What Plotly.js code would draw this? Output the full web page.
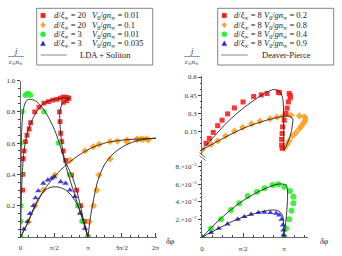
<!DOCTYPE html>
<html><head><meta charset="utf-8">
<script src="https://cdn.plot.ly/plotly-3.0.1.min.js"></script>
<style>html,body{margin:0;padding:0;background:#fff}#c{width:342px;height:256px}</style>
</head><body><div id="c"></div>
<script>
const PI = Math.PI;

// ---------- LEFT PANEL (LDA + Soliton) ----------
// d/xi=20, V0=0.01 (red squares)
const lRedPhi = [0.10,0.11,0.13,0.17,0.23,0.30,0.40,0.47,0.66,0.86,1.09,1.30,1.50,1.68,1.85,1.98,2.10,2.20,2.25,2.15,2.00,1.81,1.84,1.87,1.92,1.99,2.10,2.38,2.61,2.80,2.98,3.14];
const lRedJ   = [0.30,0.40,0.50,0.55,0.61,0.65,0.69,0.73,0.80,0.83,0.856,0.865,0.875,0.88,0.888,0.893,0.893,0.89,0.886,0.87,0.86,0.80,0.737,0.663,0.61,0.55,0.49,0.396,0.30,0.20,0.10,0.0];
// d/xi=20, V0=0.1 (orange diamonds), two branches
const lOrgPhiA = [0.36,0.67,1.06,1.60,2.30,3.00,3.39,3.66,4.17,4.51,4.95,5.44,5.60,5.72,5.95];
const lOrgJA   = [0.098,0.20,0.30,0.396,0.49,0.55,0.577,0.592,0.609,0.613,0.62,0.624,0.626,0.624,0.62];
const lOrgPhiB = [3.14,3.20,3.40,3.55,3.65,4.17,4.95,5.41,5.87];
const lOrgJB   = [0.0,0.098,0.20,0.30,0.396,0.498,0.609,0.624,0.628];
// d/xi=3, V0=0.01 (green circles)
const lGrnPhi = [0.01,0.01,0.01,0.015,0.02,0.07,0.22,0.30,0.38,0.46,1.09,1.76,2.29,2.67,2.86,3.14];
const lGrnJ   = [0.0,0.10,0.20,0.40,0.60,0.80,0.905,0.915,0.915,0.905,0.80,0.60,0.40,0.20,0.10,0.0];
// d/xi=3, V0=0.035 (blue triangles)
const lBluPhi = [0.0,0.15,0.33,0.44,0.60,0.70,0.83,1.06,1.27,1.45,1.57,1.87,2.10,2.30,2.54,2.69,2.77,2.90,3.00,3.14];
const lBluJ   = [0.0,0.05,0.098,0.15,0.20,0.25,0.294,0.343,0.364,0.375,0.385,0.353,0.343,0.30,0.258,0.198,0.151,0.098,0.055,0.0];
// LDA + soliton curves
const lcRedPhiA = [0,0.02,0.05,0.09,0.14,0.22,0.35,0.55,0.80,1.10,1.45,1.80,2.10,2.30];
const lcRedJA   = [0,0.15,0.30,0.42,0.52,0.60,0.68,0.75,0.81,0.855,0.875,0.885,0.89,0.886];
const lcRedPhiB = [2.30,2.10,1.92,1.83,1.84,1.88,1.95,2.07,2.38,2.61,2.82,2.98,3.14];
const lcRedJB   = [0.886,0.872,0.845,0.79,0.72,0.65,0.57,0.49,0.396,0.30,0.18,0.08,0.0];
const lcGrnPhi = [0,0.005,0.015,0.03,0.056,0.09,0.13,0.20,0.30,0.45,0.70,1.00,1.30,1.60,1.90,2.20,2.50,2.80,3.00,3.14];
const lcGrnJ   = [0,0.20,0.40,0.55,0.68,0.76,0.81,0.85,0.875,0.88,0.87,0.83,0.765,0.68,0.56,0.41,0.28,0.15,0.06,0];
const lcBluPhi = [0,0.30,0.60,0.90,1.20,1.50,1.80,2.10,2.40,2.65,2.85,3.00,3.14];
const lcBluJ   = [0,0.08,0.18,0.26,0.305,0.32,0.318,0.30,0.26,0.205,0.14,0.075,0];
const lcOrgPhiA = [0,0.30,0.70,1.10,1.60,2.20,2.80,3.40,4.00,4.60,5.20,5.80,6.30];
const lcOrgJA   = [0,0.08,0.20,0.30,0.39,0.47,0.53,0.575,0.603,0.617,0.624,0.628,0.63];
const lcOrgPhiB = [3.14,3.25,3.40,3.60,3.90,4.30,4.80,5.30,5.80,6.30];
const lcOrgJB   = [0,0.12,0.24,0.36,0.46,0.53,0.58,0.61,0.625,0.632];

// ---------- RIGHT PANEL (Deaver-Pierce) ----------
// top: V0=0.2 (red), V0=0.8 (orange)
const rRedPhi = [0.153,0.28,0.43,0.60,0.77,0.98,1.24,1.57,1.98,2.27,2.49,2.92,2.97,3.34,3.38,3.38,3.31,3.26,3.22,3.15,3.09,3.07,3.05,3.05,3.07];
const rRedJ   = [0.055,0.096,0.145,0.20,0.245,0.297,0.346,0.395,0.44,0.453,0.464,0.475,0.47,0.464,0.448,0.43,0.395,0.344,0.30,0.245,0.19,0.136,0.087,0.04,0.014];
const rOrgPhi = [0,0.35,0.60,0.90,1.24,1.56,1.90,2.22,2.60,2.87,3.10,3.41,3.73,3.92,3.98,3.94,3.88,3.80,3.73,3.60,3.47,3.34,3.26,3.15];
const rOrgJ   = [0,0.047,0.074,0.115,0.155,0.186,0.215,0.237,0.256,0.27,0.28,0.286,0.281,0.273,0.256,0.237,0.218,0.195,0.175,0.142,0.115,0.074,0.047,0.014];
// bottom: V0=0.4 (green), V0=0.9 (blue)
const rGrnPhi = [0,0.345,0.73,1.11,1.43,1.75,2.11,2.39,2.71,2.92,3.15,3.37,3.50,3.50,3.43,3.34,3.22,3.15];
const rGrnJ   = [0,0.010,0.0203,0.0309,0.0384,0.0467,0.0515,0.0553,0.0591,0.0599,0.0572,0.0523,0.0459,0.0384,0.030,0.0203,0.010,0];
const rBluPhi = [0,0.345,0.64,0.98,1.37,1.62,1.88,2.16,2.39,2.62,2.84,2.96,3.05,3.10,3.12,3.13,3.14];
const rBluJ   = [0,0.0052,0.010,0.015,0.0203,0.0233,0.026,0.0278,0.0282,0.0278,0.027,0.0252,0.0203,0.0139,0.0082,0.003,0];
// Deaver-Pierce curves
const rcRedPhi = [0,0.50,1.00,1.50,2.00,2.40,2.73,2.90,3.02,3.09,3.12,3.13,3.14];
const rcRedJ   = [0,0.12,0.235,0.33,0.41,0.465,0.497,0.49,0.465,0.43,0.35,0.20,0];
const rcOrgPhi = [0,0.80,1.60,2.40,2.90,3.20,3.40,3.48,3.47,3.42,3.30,3.20,3.14];
const rcOrgJ   = [0,0.095,0.18,0.24,0.268,0.278,0.272,0.255,0.22,0.15,0.07,0.02,0];
const rcGrnPhi = [0,0.50,1.00,1.50,2.00,2.50,2.85,3.09,3.22,3.27,3.27,3.22,3.16,3.14];
const rcGrnJ   = [0,0.015,0.0285,0.040,0.049,0.056,0.0598,0.0602,0.059,0.055,0.040,0.020,0.005,0];
const rcBluPhi = [0,0.60,1.20,1.80,2.30,2.70,2.95,3.08,3.13,3.14];
const rcBluJ   = [0,0.0095,0.0185,0.025,0.029,0.0309,0.0295,0.025,0.015,0];

// ---------- labels ----------
const leftXTicks = ['0','π/2','π','3π/2','2π'];
const rightXTicks = ['0','π/2','π'];
const leftYTicks = ['0.2','0.4','0.6','0.8','1.0'];
const rightTopYTicks = ['0.15','0.3','0.45','0.6'];
const rightBotYTicks = ['2.×10<sup>−2</sup>','4.×10<sup>−2</sup>','6.×10<sup>−2</sup>','8.×10<sup>−2</sup>'];
const leftLegend = [['20','0.01'],['20','0.1'],['3','0.01'],['3','0.035']];
const rightLegend = [['8','0.2'],['8','0.8'],['8','0.4'],['8','0.9']];

const W = 342, H = 256;
const px = x => x / W, py = y => 1 - y / H;
const RED = '#ff1e1e', ORG = '#ffa024', GRN = '#2ef02e', BLU = '#2a2ad8', LINE = '#222';
const FONT = 'Liberation Serif';

function mk(x, y, color, sym, size, xa, ya) {
  return {x, y, type:'scatter', mode:'markers', xaxis:xa, yaxis:ya, showlegend:false, hoverinfo:'skip',
    marker:{color, symbol:sym, size, opacity:0.9, line:{width:0}}};
}
function ln(x, y, xa, ya) {
  return {x, y, type:'scatter', mode:'lines', xaxis:xa, yaxis:ya, showlegend:false, hoverinfo:'skip',
    line:{color:LINE, width:0.9, shape:'spline', smoothing:0.8}};
}

const traces = [
  mk(lOrgPhiA, lOrgJA, ORG, 'diamond', 5.5, 'x', 'y'),
  mk(lOrgPhiB, lOrgJB, ORG, 'diamond', 5.5, 'x', 'y'),
  mk(lBluPhi, lBluJ, BLU, 'triangle-up', 5.5, 'x', 'y'),
  mk(lRedPhi, lRedJ, RED, 'square', 4.8, 'x', 'y'),
  mk(lGrnPhi, lGrnJ, GRN, 'circle', 5.5, 'x', 'y'),
  ln(lcRedPhiA, lcRedJA, 'x', 'y'),
  ln(lcRedPhiB, lcRedJB, 'x', 'y'),
  ln(lcGrnPhi, lcGrnJ, 'x', 'y'),
  ln(lcBluPhi, lcBluJ, 'x', 'y'),
  ln(lcOrgPhiA, lcOrgJA, 'x', 'y'),
  ln(lcOrgPhiB, lcOrgJB, 'x', 'y'),
  mk(rOrgPhi, rOrgJ, ORG, 'diamond', 5.5, 'x2', 'y3'),
  mk(rRedPhi, rRedJ, RED, 'square', 5, 'x2', 'y3'),
  ln(rcRedPhi, rcRedJ, 'x2', 'y3'),
  ln(rcOrgPhi, rcOrgJ, 'x2', 'y3'),
  mk(rGrnPhi, rGrnJ, GRN, 'circle', 6, 'x2', 'y2'),
  mk(rBluPhi, rBluJ, BLU, 'triangle-up', 5.5, 'x2', 'y2'),
  ln(rcGrnPhi, rcGrnJ, 'x2', 'y2'),
  ln(rcBluPhi, rcBluJ, 'x2', 'y2'),
];

const tickFont = {family:FONT, size:7, color:'#333'};
const axBase = {showline:true, linecolor:'#444', linewidth:0.8, zeroline:false, showgrid:false,
  tickcolor:'#444', tickfont:tickFont, tickmode:'array', fixedrange:true};

const layout = {
  width:W, height:H, margin:{l:0,r:0,t:0,b:0}, paper_bgcolor:'#fff', plot_bgcolor:'rgba(0,0,0,0)',
  showlegend:false, font:{family:FONT, size:8, color:'#222'},
  xaxis:Object.assign({}, axBase, {domain:[px(20.5), px(157)], range:[0, 2*PI*136.5/135], anchor:'y',
    tickvals:[0,PI/2,PI,3*PI/2,2*PI], ticktext:leftXTicks, ticks:'inside', ticklen:4, ticklabelstandoff:4,
    minor:{tickmode:'linear', tick0:0, dtick:PI/8, ticks:'inside', ticklen:2, tickcolor:'#444'}}),
  yaxis:Object.assign({}, axBase, {domain:[py(237), py(80.5)], range:[0,1], anchor:'x',
    tickvals:[0.2,0.4,0.6,0.8,1.0], ticktext:leftYTicks, ticks:'outside', ticklen:3,
    minor:{tickmode:'linear', tick0:0, dtick:0.05, ticks:'outside', ticklen:1.5, tickcolor:'#444'}}),
  xaxis2:Object.assign({}, axBase, {domain:[px(202), px(308)], range:[0, PI*106/82], anchor:'y2',
    tickvals:[0,PI/2,PI], ticktext:rightXTicks, ticks:'inside', ticklen:4, ticklabelstandoff:4,
    minor:{tickmode:'linear', tick0:0, dtick:PI/8, ticks:'inside', ticklen:2, tickcolor:'#444'}}),
  yaxis2:Object.assign({}, axBase, {domain:[py(237.3), py(160)], range:[0, 0.08*77.3/70.8], anchor:'x2',
    tickvals:[0.02,0.04,0.06,0.08], ticktext:rightBotYTicks, ticks:'outside', ticklen:3,
    minor:{tickmode:'linear', tick0:0, dtick:0.005, ticks:'outside', ticklen:1.5, tickcolor:'#444'}}),
  yaxis3:Object.assign({}, axBase, {domain:[py(155), py(76)], range:[-5/122.2, 0.6+1/122.2], anchor:'x2',
    tickvals:[0.15,0.3,0.45,0.6], ticktext:rightTopYTicks, ticks:'outside', ticklen:3,
    minor:{tickmode:'linear', tick0:0, dtick:0.05, ticks:'outside', ticklen:1.5, tickcolor:'#444'}}),
  shapes:[], annotations:[]
};

const S = layout.shapes, A = layout.annotations;
function seg(x0,y0,x1,y1,c,w){ S.push({type:'line', xref:'paper', yref:'paper', x0:px(x0), y0:py(y0), x1:px(x1), y1:py(y1), line:{color:c||'#444', width:w||0.8}}); }
function txt(x,y,t,opts){ A.push(Object.assign({xref:'paper', yref:'paper', x:px(x), y:py(y), text:t, showarrow:false,
  xanchor:'left', yanchor:'middle', font:{family:FONT, size:8.5, color:'#222'}}, opts||{})); }

// axis break on right panel
seg(199.5,152.5,205.5,157.5); seg(199.5,155.5,205.5,160.5);

// axis titles
function jTitle(cx, yj){
  txt(cx, yj, '<i>j</i>', {xanchor:'center', font:{family:FONT,size:8,color:'#222'}});
  seg(cx-8, yj+5, cx+8, yj+5, '#555', 0.6);
  txt(cx, yj+10, '<i>c</i><sub>∞</sub><i>n</i><sub>∞</sub>', {xanchor:'center', font:{family:FONT,size:7,color:'#222'}});
}
jTitle(16, 51.5); jTitle(192, 51.5);
txt(164, 241, '<i>δφ</i>', {font:{family:FONT,size:8,color:'#222'}});
txt(318, 241, '<i>δφ</i>', {font:{family:FONT,size:8,color:'#222'}});

// legends (manual boxes)
function symbol(kind, cx, cy, color){
  const s = 2.4;
  if (kind==='square') S.push({type:'rect', xref:'paper', yref:'paper', x0:px(cx-s), x1:px(cx+s), y0:py(cy+s), y1:py(cy-s), fillcolor:color, line:{width:0}});
  if (kind==='circle') S.push({type:'circle', xref:'paper', yref:'paper', x0:px(cx-2.7), x1:px(cx+2.7), y0:py(cy+2.7), y1:py(cy-2.7), fillcolor:color, line:{width:0}});
  if (kind==='diamond') S.push({type:'path', xref:'paper', yref:'paper', fillcolor:color, line:{width:0},
    path:`M${px(cx)},${py(cy-3)} L${px(cx+2.6)},${py(cy)} L${px(cx)},${py(cy+3)} L${px(cx-2.6)},${py(cy)} Z`});
  if (kind==='triangle') S.push({type:'path', xref:'paper', yref:'paper', fillcolor:color, line:{width:0},
    path:`M${px(cx)},${py(cy-3)} L${px(cx+2.8)},${py(cy+2.2)} L${px(cx-2.8)},${py(cy+2.2)} Z`});
}
function legend(x0, x1, rows, symX, dX, vX, lineX0, lineX1, lineLabel, lineLabelX){
  S.push({type:'rect', xref:'paper', yref:'paper', x0:px(x0), x1:px(x1), y0:py(65), y1:py(8.3), line:{color:'#666', width:0.8}, fillcolor:'rgba(255,255,255,0)'});
  const ys = [15.5, 25, 34.3, 43.5];
  const kinds = ['square','diamond','circle','triangle'];
  const cols = [RED, ORG, GRN, BLU];
  rows.forEach((r,i) => {
    symbol(kinds[i], symX, ys[i], cols[i]);
    txt(dX, ys[i], `<i>d</i>/<i>ξ</i><sub>∞</sub> = ${r[0]}`);
    txt(vX, ys[i], `<i>V</i><sub>0</sub>/<i>gn</i><sub>∞</sub> = ${r[1]}`);
  });
  seg(lineX0, 55, lineX1, 55, '#888', 1);
  txt(lineLabelX, 55, lineLabel, {xanchor:'center'});
}
legend(36.7, 152.7, leftLegend, 43, 52, 90, 40.7, 66.7, 'LDA + Soliton', 105);
legend(217.7, 333.7, rightLegend, 224.3, 231.5, 261.5, 221, 247.7, 'Deaver-Pierce', 286);

Plotly.newPlot('c', traces, layout, {staticPlot:true, displayModeBar:false});
</script>
</body></html>
